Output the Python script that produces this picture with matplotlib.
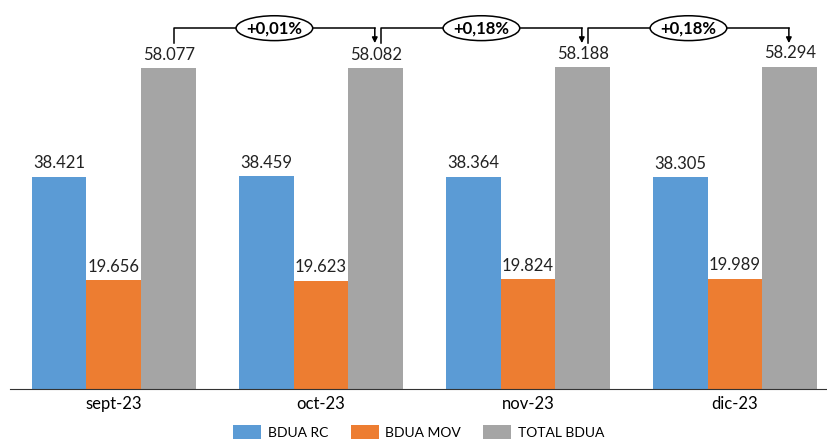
import matplotlib.pyplot as plt
import numpy as np
from matplotlib.patches import Ellipse

plt.rcParams['font.family'] = ['Lato', 'DejaVu Sans']

meses = ['sept-23', 'oct-23', 'nov-23', 'dic-23']
bdua_rc = [38.421, 38.459, 38.364, 38.305]
bdua_mov = [19.656, 19.623, 19.824, 19.989]
total_bdua = [58.077, 58.082, 58.188, 58.294]
variaciones = ['+0,01%', '+0,18%', '+0,18%']

colores = ['#5B9BD5', '#ED7D31', '#A5A5A5']
series = [('BDUA RC', bdua_rc), ('BDUA MOV', bdua_mov), ('TOTAL BDUA', total_bdua)]

fig = plt.figure(figsize=(8.28, 4.43), dpi=100)
ax = fig.add_axes([10 / 828, 1 - 389 / 443, 818 / 828, 389 / 443])

x = np.arange(len(meses))
w = 0.265
for k, (nombre, vals) in enumerate(series):
    pos = x + (k - 1) * w
    ax.bar(pos, vals, w, color=colores[k], label=nombre)
    for p, v in zip(pos, vals):
        ax.text(p, v + 1.0, f'{v:.3f}', ha='center', va='bottom', fontsize=12, color='#222222')

ax.set_xlim(-0.502, 3.449)
ax.set_ylim(0, 70.4)
ax.set_yticks([])
ax.set_xticks(x)
ax.set_xticklabels(meses, fontsize=12)
ax.tick_params(axis='x', length=0, pad=5)
for s in ['top', 'right', 'left']:
    ax.spines[s].set_visible(False)
ax.spines['bottom'].set_color('#333333')

# brackets con variación
y_top = 65.3
y_pie = 62.6
for i, txt in enumerate(variaciones):
    x0 = x[i] + w + 0.025
    x1 = x[i + 1] + w - 0.005
    ax.plot([x0, x0, x1], [y_pie, y_top, y_top], color='black', lw=1.1)
    ax.annotate('', xy=(x1, y_pie), xytext=(x1, y_top),
                arrowprops=dict(arrowstyle='-|>', color='black', lw=1.1, mutation_scale=8,
                                shrinkA=0, shrinkB=0))
    xm = (x0 + x1) / 2
    ax.add_patch(Ellipse((xm, y_top), 0.37, 4.5, facecolor='white', edgecolor='black', lw=1.1, zorder=3))
    ax.text(xm, y_top, txt, ha='center', va='center', fontsize=12, fontweight='bold', zorder=4)

ax.legend(loc='upper center', bbox_to_anchor=(0.5, -0.068), ncol=3, frameon=False,
          fontsize=10, handlelength=2.0, handleheight=1.2, columnspacing=1.6, handletextpad=0.5,
          borderpad=0.2)

fig.savefig('out.png', dpi=100)
